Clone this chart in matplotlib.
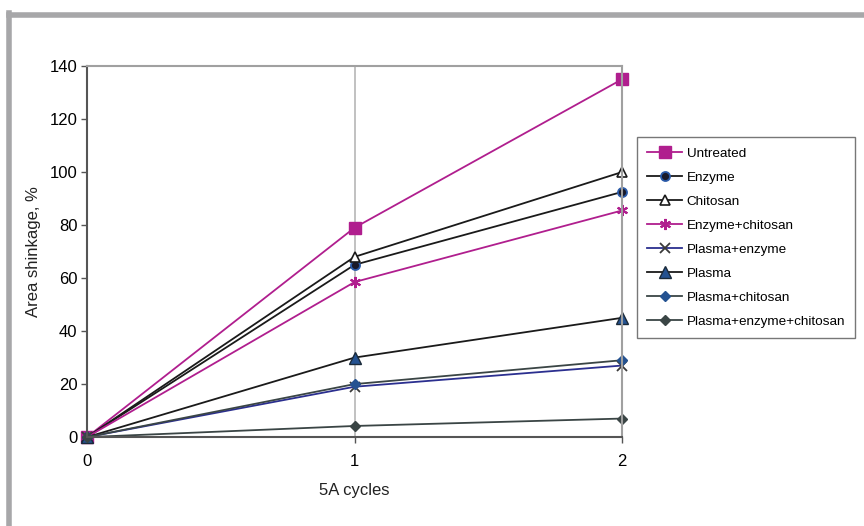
import numpy as np
import matplotlib.pyplot as plt
from matplotlib.lines import Line2D

plt.rcParams['font.family'] = ['Liberation Sans', 'DejaVu Sans']

cycles = [0, 1, 2]
series_names = ['Untreated', 'Enzyme', 'Chitosan', 'Enzyme+chitosan',
                'Plasma+enzyme', 'Plasma', 'Plasma+chitosan', 'Plasma+enzyme+chitosan']
untreated = [0, 79, 135]
enzyme = [0, 65, 92.5]
chitosan = [0, 68, 100]
enzyme_chitosan = [0, 58.5, 85.5]
plasma_enzyme = [0, 19, 27]
plasma = [0, 30, 45]
plasma_chitosan = [0, 20, 29]
plasma_enzyme_chitosan = [0, 4.2, 7]

magenta = '#B01E8E'
styles = [
    dict(color=magenta, marker='s', ms=9, mfc=magenta, mec=magenta),
    dict(color='#1a1a1a', marker='o', ms=6.5, mfc='#1a1a2a', mec='#2a5aa8', mew=1.3),
    dict(color='#1a1a1a', marker='^', ms=7, mfc='white', mec='#1a1a1a', mew=1.2),
    dict(color=magenta, marker=(6, 2, 0), ms=8, mfc=magenta, mec=magenta, mew=1.5),
    dict(color='#2B2F8F', marker='x', ms=7, mec='#3a3a3a', mew=1.3),
    dict(color='#1a1a1a', marker='^', ms=8, mfc='#245291', mec='#1a2a3a', mew=1),
    dict(color='#3a4545', marker='D', ms=5.5, mfc='#245291', mec='#245291'),
    dict(color='#3a4545', marker='D', ms=5.5, mfc='#3a4545', mec='#3a4545'),
]
data = [untreated, enzyme, chitosan, enzyme_chitosan,
        plasma_enzyme, plasma, plasma_chitosan, plasma_enzyme_chitosan]

fig = plt.figure(figsize=(8.64, 5.26), dpi=100)
ax = fig.add_axes([0.1007, 0.169, 0.6193, 0.7055])

handles = []
for name, vals, st in zip(series_names, data, styles):
    h, = ax.plot(cycles, vals, lw=1.3, label=name, clip_on=False, **st)
    handles.append(h)

ax.set_xlim(0, 2)
ax.set_ylim(0, 140)
ax.set_xticks([0, 1, 2])
ax.set_yticks(np.arange(0, 141, 20))
ax.axvline(1, color='#b0b0b0', lw=1.1, zorder=0)
for s in ['left', 'bottom']:
    ax.spines[s].set_color('#555555')
    ax.spines[s].set_linewidth(1.5)
for s in ['top', 'right']:
    ax.spines[s].set_color('#a0a0a0')
    ax.spines[s].set_linewidth(1.5)
ax.tick_params(axis='both', labelsize=12, color='#555555', length=4, width=1, pad=8)
ax.tick_params(axis='y', pad=3)
ax.set_xlabel('5A cycles', fontsize=12, color='#222222', labelpad=10)
ax.set_ylabel('Area shinkage, %', fontsize=12, color='#222222', labelpad=6)

leg = fig.legend(handles=handles, loc='upper left', bbox_to_anchor=(637 / 864, 1 - 137 / 526),
                 borderaxespad=0, fontsize=9.7, frameon=True, fancybox=False,
                 edgecolor='#555555', handlelength=2.6, labelspacing=0.86,
                 borderpad=0.75, handletextpad=0.35)
leg.get_frame().set_linewidth(1.0)

# grey page frame
fig.add_artist(Line2D([9 / 864, 1], [1 - 14.5 / 526, 1 - 14.5 / 526], color='#a7a7a9', lw=4,
                      transform=fig.transFigure))
fig.add_artist(Line2D([9 / 864, 9 / 864], [0, 1 - 12.5 / 526], color='#a7a7a9', lw=4,
                      transform=fig.transFigure))

fig.savefig('out.png', dpi=100)
